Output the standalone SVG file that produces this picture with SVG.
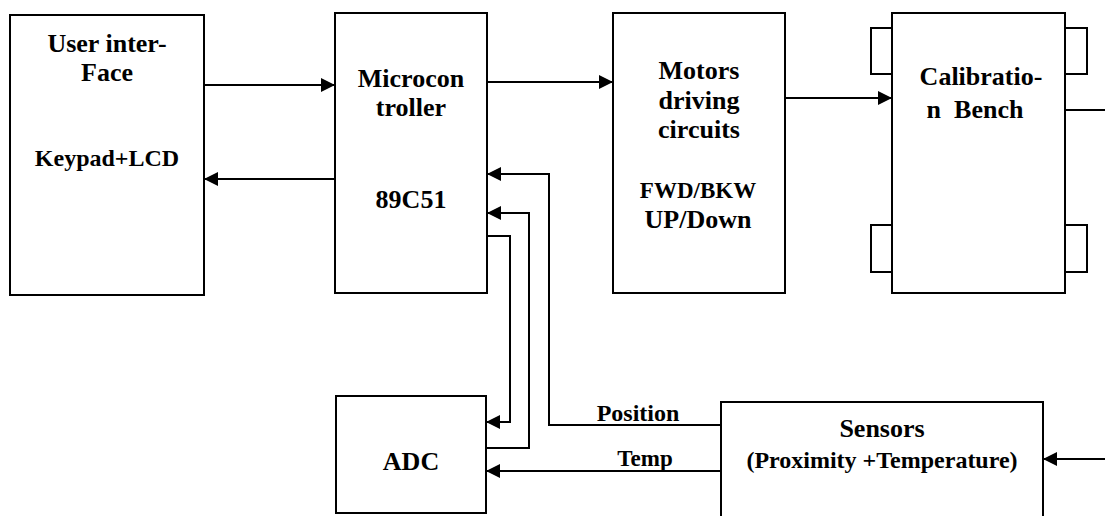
<svg xmlns="http://www.w3.org/2000/svg" width="1105" height="516" viewBox="0 0 1105 516">
<style>
.box{fill:#fff;stroke:#000;stroke-width:2}
.open{fill:none;stroke:#000;stroke-width:2}
.c{fill:none;stroke:#000;stroke-width:2}
.a{marker-end:url(#ah)}
text{font-family:"Liberation Serif","Times New Roman",serif;font-weight:bold;font-size:26px;fill:#000;text-anchor:middle}
.s24{font-size:24px}
.s23{font-size:23px}
</style>
<defs>
<marker id="ah" markerUnits="userSpaceOnUse" markerWidth="15" markerHeight="14" refX="14" refY="7" orient="auto">
<path d="M0,0 L14,7 L0,14 z" fill="#000"/>
</marker>
</defs>
<rect width="1105" height="516" fill="#fff"/>
<g id="user-interface">
<rect class="box" x="10" y="15" width="194" height="280"/>
<text x="107" y="52">User inter-</text>
<text x="107" y="81">Face</text>
<text class="s24" x="107" y="166">Keypad+LCD</text>
</g>
<g id="microcontroller">
<rect class="box" x="335" y="13" width="152" height="280"/>
<text x="411" y="87">Microcon</text>
<text x="411" y="116">troller</text>
<text x="411" y="208">89C51</text>
</g>
<g id="motors">
<rect class="box" x="613" y="13" width="172" height="280"/>
<text x="699" y="79">Motors</text>
<text x="699" y="109">driving</text>
<text x="699" y="138">circuits</text>
<text class="s23" x="698" y="198">FWD/BKW</text>
<text x="698" y="228">UP/Down</text>
</g>
<g id="calibration-bench">
<rect class="box" x="871" y="28" width="21" height="46"/>
<rect class="box" x="871" y="225" width="21" height="47"/>
<rect class="box" x="1065" y="28" width="22" height="46"/>
<rect class="box" x="1065" y="225" width="22" height="47"/>
<rect class="box" x="892" y="13" width="173" height="280"/>
<text x="981" y="85">Calibratio-</text>
<text x="975" y="118" xml:space="preserve">n  Bench</text>
</g>
<g id="adc">
<rect class="box" x="336" y="396" width="150" height="117"/>
<text x="411" y="470">ADC</text>
</g>
<g id="sensors">
<path class="open" d="M721,517 V402 H1043 V517"/>
<text x="882" y="437">Sensors</text>
<text class="s24" x="882" y="468">(Proximity +Temperature)</text>
</g>
<g id="connectors">
<path class="c a" d="M204,85 H335"/>
<path class="c a" d="M335,179 H204"/>
<path class="c a" d="M487,82 H613"/>
<path class="c a" d="M785,98 H892"/>
<path class="c" d="M1065,110 H1105"/>
<path class="c a" d="M721,425 H549 V174 H487"/>
<path class="c a" d="M486,448 H529 V213 H487"/>
<path class="c a" d="M487,236 H510 V422 H486"/>
<path class="c a" d="M721,471 H486"/>
<path class="c a" d="M1105,459 H1043"/>
<text class="s24" x="638" y="421">Position</text>
<text class="s23" x="645" y="466">Temp</text>
</g>
</svg>
